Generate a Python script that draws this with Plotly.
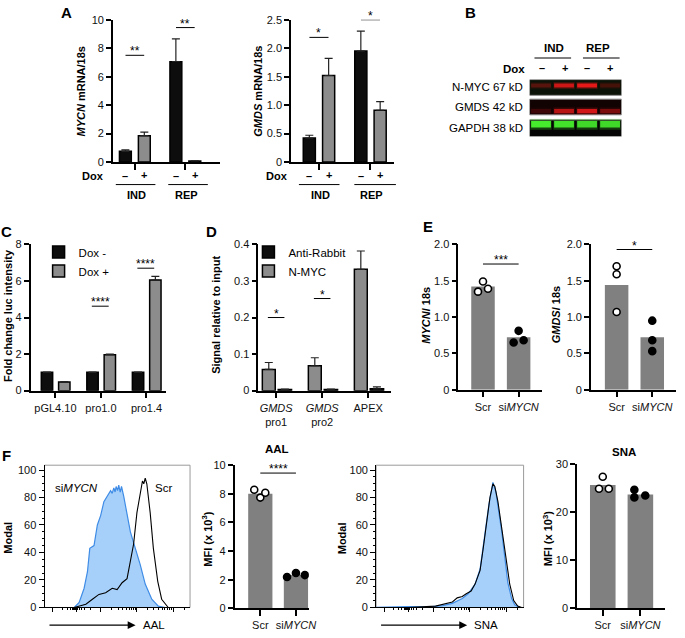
import plotly.graph_objects as go

W, H = 685, 638
FONT = "Arial, Liberation Sans, sans-serif"

# ─── data ────────────────────────────────────────────────────────────────────
A_GROUPS = ["IND", "REP"]
A_DOX = ["–", "+"]
A_MYCN_MINUS = [0.75, 7.05]
A_MYCN_MINUS_ERR = [0.10, 1.60]
A_MYCN_PLUS = [1.85, 0.07]
A_MYCN_PLUS_ERR = [0.25, 0.02]
A_MYCN_SIG = ["**", "**"]
A_GMDS_MINUS = [0.42, 1.95]
A_GMDS_MINUS_ERR = [0.05, 0.35]
A_GMDS_PLUS = [1.52, 0.91]
A_GMDS_PLUS_ERR = [0.30, 0.15]
A_GMDS_SIG = ["*", "*"]

B_ROWS = ["N-MYC 67 kD", "GMDS 42 kD", "GAPDH 38 kD"]
B_NMYC = [0.30, 0.85, 1.00, 0.22]
B_GMDS = [0.18, 0.75, 0.90, 0.45]
B_GAPDH = [1.00, 0.95, 0.90, 0.90]

C_CONSTRUCTS = ["pGL4.10", "pro1.0", "pro1.4"]
C_DOX_MINUS = [1.0, 1.0, 1.0]
C_DOX_MINUS_ERR = [0.02, 0.02, 0.02]
C_DOX_PLUS = [0.47, 1.97, 6.05]
C_DOX_PLUS_ERR = [0.03, 0.03, 0.20]
C_SIG = ["", "****", "****"]

D_REGIONS = ["<i>GMDS</i><br>pro1", "<i>GMDS</i><br>pro2", "APEX"]
D_ANTI_RABBIT = [0.003, 0.003, 0.005]
D_ANTI_RABBIT_ERR = [0.001, 0.001, 0.005]
D_NMYC = [0.058, 0.068, 0.332]
D_NMYC_ERR = [0.019, 0.022, 0.050]
D_SIG = ["*", "*", "**"]

SI_GROUPS = ["Scr", "si<i>MYCN</i>"]
E_MYCN_MEAN = [1.42, 0.72]
E_MYCN_SCR = [1.35, 1.49, 1.39]
E_MYCN_SI = [0.65, 0.81, 0.68]
E_GMDS_MEAN = [1.44, 0.72]
E_GMDS_SCR = [1.70, 1.59, 1.07]
E_GMDS_SI = [0.95, 0.68, 0.53]

# flow histograms (channel 0-100, % of mode)
AAL_SI_X = [20.4, 23.8, 27.2, 29.5, 31.1, 34.0, 36.3, 38.6, 40.8, 42.5, 43.8, 45.4, 46.5,
            47.6, 48.5, 49.2, 50.2, 51.0, 52.0, 52.9, 54.4, 56.7, 59.0, 62.4, 65.8, 69.2,
            73.7, 78.2, 82.8]
AAL_SI_Y = [0, 3.6, 14, 26, 43, 45, 60, 67, 77, 80, 83, 85, 83, 87, 84, 88, 85, 89, 84,
            88, 81, 67, 55, 43, 31, 17, 6, 1, 0]
AAL_SCR_X = [20.4, 28.4, 32.9, 37.4, 42.0, 46.5, 49.9, 53.3, 56.7, 59.0, 61.2, 63.5, 65.8,
             67.3, 68.2, 69.2, 70.3, 72.6, 74.8, 77.8, 80.5, 85.0]
AAL_SCR_Y = [0, 2.4, 6, 9.5, 10.7, 14, 13, 18, 21, 33, 46, 69, 83, 92, 90, 94, 90, 69, 43,
             19, 6, 0]
SNA_SI_X = [0, 22.1, 35.6, 45.0, 51.7, 58.4, 62.4, 67.1, 70.5, 72.5, 75.2, 76.5, 78.5, 79.2,
            81.2, 82.6, 85.2, 87.2, 89.3, 91.9, 94.0, 97.3]
SNA_SI_Y = [0, 0.7, 0.5, 1.4, 3, 6.5, 10, 17, 28, 44, 67, 75, 87, 91, 84, 74, 55, 37, 18,
            6.5, 2, 0]
SNA_SCR_X = [0, 22.1, 40.3, 47.0, 51.7, 55.0, 58.4, 61.1, 64.4, 67.1, 70.5, 72.5, 75.2, 77.2,
             79.2, 80.5, 82.6, 85.2, 87.9, 90.6, 93.3, 96.0, 98.7]
SNA_SCR_Y = [0, 0, 1, 3, 4, 7, 8, 10, 12, 17, 27, 42, 65, 80, 90, 88, 77, 58, 35, 17, 5, 1, 0]

F_AAL_MEAN = [8.0, 2.33]
F_AAL_SCR = [8.29, 7.74, 8.08]
F_AAL_SI = [2.20, 2.47, 2.33]
F_SNA_MEAN = [25.7, 23.7]
F_SNA_SCR = [24.9, 27.4, 24.9]
F_SNA_SI = [24.7, 23.1, 23.5]

BLACK = "#0d0d0d"
GREY = "#8c8c8c"
BAR_GREY = "#808080"


def px(x):
    return x / W


def py(y):
    return 1 - y / H


fig = go.Figure()
layout_axes = {}
shapes = []
annotations = []


def axis_pair(n, xpx, ypx, xr, yr, **ykw):
    """Axis n placed on the pixel box xpx (left, right) x ypx (top, bottom)."""
    sx = "" if n == 1 else str(n)
    base = dict(showline=True, linecolor="black", linewidth=1.5, ticks="outside",
                ticklen=5, tickwidth=1.5, tickcolor="black", showgrid=False,
                zeroline=False, fixedrange=True,
                tickfont=dict(family=FONT, size=11, color="#111"))
    xa = dict(base, domain=[px(xpx[0]), px(xpx[1])], range=xr, anchor="y" + sx)
    ya = dict(base, domain=[py(ypx[1]), py(ypx[0])], range=yr, anchor="x" + sx)
    ya.update(ykw)
    layout_axes["xaxis" + sx] = xa
    layout_axes["yaxis" + sx] = ya
    return "x" + sx, "y" + sx


def bar(xa, ya, vals, err, color, offset, width, outline=True, **kw):
    n = len(vals)
    t = go.Bar(x=list(range(n)), y=vals, offset=offset, width=width, xaxis=xa, yaxis=ya,
               marker=dict(color=color, line=dict(color="black", width=1.5 if outline else 0)),
               showlegend=False, hoverinfo="skip")
    if err is not None:
        t.error_y = dict(type="data", array=err, arrayminus=[0] * n, symmetric=False,
                         color="#222", thickness=1.2, width=4)
    t.update(**kw)
    fig.add_trace(t)


def dots(xa, ya, i, vals, jitter, open_):
    fig.add_trace(go.Scatter(
        x=[i + j for j in jitter], y=vals, mode="markers", xaxis=xa, yaxis=ya,
        marker=dict(size=7, color="white" if open_ else "black",
                    line=dict(color="black", width=1.6)),
        showlegend=False, hoverinfo="skip"))


def sig(xa, ya, x0, x1, y, stars):
    if not stars:
        return
    shapes.append(dict(type="line", xref=xa, yref=ya, x0=x0, x1=x1, y0=y, y1=y,
                       line=dict(color="black", width=1)))
    annotations.append(dict(x=(x0 + x1) / 2, y=y, xref=xa, yref=ya, text=stars,
                            showarrow=False, yanchor="bottom", yshift=-5,
                            font=dict(family=FONT, size=12, color="black")))


def text(x, y, s, size=11, anchor="center", angle=0, xref="paper"):
    annotations.append(dict(x=x if xref != "paper" else px(x), y=py(y), xref=xref,
                            yref="paper", text=s, showarrow=False, xanchor=anchor,
                            yanchor="middle", textangle=angle,
                            font=dict(family=FONT, size=size, color="black")))


def hline(x0, x1, y, width=1):
    shapes.append(dict(type="line", xref="paper", yref="paper", x0=px(x0), x1=px(x1),
                       y0=py(y), y1=py(y), line=dict(color="black", width=width)))


def arrow(x0, x1, y):
    hline(x0, x1 - 6, y, 1.2)
    shapes.append(dict(type="path", xref="paper", yref="paper", fillcolor="black",
                       line=dict(width=0),
                       path="M%f,%f L%f,%f L%f,%fZ" % (px(x1 - 8), py(y - 4), px(x1), py(y),
                                                        px(x1 - 8), py(y + 4))))


# ─── A: MYCN / GMDS qPCR ─────────────────────────────────────────────────────
for n, xpx, xr, yr, minus, merr, plus, perr, sigs, sig_y, ticks, ytitle, tx, lines in [
    (1, (114, 222), [-0.431, 1.686], [0, 10], A_MYCN_MINUS, A_MYCN_MINUS_ERR,
     A_MYCN_PLUS, A_MYCN_PLUS_ERR, A_MYCN_SIG, [7.5, 9.45],
     dict(tickvals=[0, 2, 4, 6, 8, 10]), "<b><i>MYCN</i> mRNA/18s</b>", (82, 94),
     [(117, 157), (170, 210)]),
    (2, (294, 398), [-0.538, 1.46], [0, 2.5], A_GMDS_MINUS, A_GMDS_MINUS_ERR,
     A_GMDS_PLUS, A_GMDS_PLUS_ERR, A_GMDS_SIG, [2.19, 2.5],
     dict(tickvals=[0, 0.5, 1, 1.5, 2, 2.5], ticktext=["0", "0.5", "1.0", "1.5", "2.0", "2.5"]),
     "<b><i>GMDS</i> mRNA/18s</b>", (261, 280), [(302, 343), (358, 400)]),
]:
    xa, ya = axis_pair(n, xpx, (14, 159), xr, yr, **ticks)
    layout_axes["xaxis" + ("" if n == 1 else str(n))].update(
        tickvals=list(range(len(A_GROUPS))), showticklabels=False, ticklen=6)
    bar(xa, ya, minus, merr, BLACK, -0.30, 0.235)
    bar(xa, ya, plus, perr, GREY, 0.075, 0.235)
    for i, g in enumerate(A_GROUPS):
        sig(xa, ya, i - 0.18, i + 0.19, sig_y[i], sigs[i])
        text(i - 0.30 + 0.1175, 173, "<b>%s</b>" % A_DOX[0], xref=xa)
        text(i + 0.075 + 0.1175, 172, "<b>%s</b>" % A_DOX[1], xref=xa)
        text(i + 0.03, 193, "<b>%s</b>" % g, xref=xa)
        hline(lines[i][0], lines[i][1], 182)
    text(tx[0], 87, ytitle, angle=-90)
    text(tx[1], 173, "<b>Dox</b>")

# ─── B: western blot ─────────────────────────────────────────────────────────
xa, ya = axis_pair(3, (535, 628), (75, 133), [-0.5, 3.5], [3, 0])
layout_axes["xaxis3"].update(visible=False)
layout_axes["yaxis3"].update(visible=False)
rows = [(0.0, 0.83, "#0b1207", B_NMYC, 0.31, 0.22, "230,25,25"),
        (1.03, 1.86, "#120303", B_GMDS, 1.66, 0.22, "225,25,25"),
        (2.12, 3.0, "#050505", B_GAPDH, 2.35, 0.34, "70,235,45")]
lanes = list(range(4))
for (y0, y1, bg, inten, c, h, rgb), label, ly in zip(rows, B_ROWS, [83, 103, 124]):
    shapes.append(dict(type="rect", xref=xa, yref=ya, x0=-0.5, x1=3.5, y0=y0, y1=y1,
                       fillcolor=bg, line=dict(color="#8a8a8a", width=1), layer="below"))
    fig.add_trace(go.Bar(x=lanes, y=[h * 1.7] * 4, base=[c - h * 0.85] * 4, width=0.92,
                         xaxis=xa, yaxis=ya, showlegend=False, hoverinfo="skip",
                         marker=dict(color=["rgba(%s,%.2f)" % (rgb, a * 0.25) for a in inten],
                                     line=dict(width=0))))
    fig.add_trace(go.Bar(x=lanes, y=[h] * 4, base=[c - h / 2] * 4, width=0.86,
                         xaxis=xa, yaxis=ya, showlegend=False, hoverinfo="skip",
                         marker=dict(color=["rgba(%s,%.2f)" % (rgb, a) for a in inten],
                                     line=dict(width=0))))
    text(530, ly, label, size=11.5, anchor="right")
text(560, 43, "<b>IND</b>", size=11.5)
text(604, 43, "<b>REP</b>", size=11.5)
hline(540, 577, 53)
hline(589, 626, 53)
text(519, 64, "<b>Dox</b>", size=11.5)
for lx, s in zip([548, 571, 593, 616], A_DOX * 2):
    text(lx, 63, "<b>%s</b>" % s)

# ─── C: luciferase ───────────────────────────────────────────────────────────
xa, ya = axis_pair(4, (31, 168), (243, 392), [-0.543, 2.435], [0, 8],
                   tickvals=[0, 2, 4, 6, 8])
layout_axes["xaxis4"].update(tickvals=list(range(3)), ticktext=C_CONSTRUCTS, ticklen=6)
bar(xa, ya, C_DOX_MINUS, C_DOX_MINUS_ERR, BLACK, -0.31, 0.25, name="Dox -",
    showlegend=True, legend="legend")
bar(xa, ya, C_DOX_PLUS, C_DOX_PLUS_ERR, GREY, 0.07, 0.25, name="Dox +",
    showlegend=True, legend="legend")
for i, (s, y) in enumerate(zip(C_SIG, [0, 4.62, 6.7])):
    sig(xa, ya, i - 0.2, i + 0.17, y, s)
text(8, 315, "<b>Fold change luc intensity</b>", angle=-90)

# ─── D: ChIP ─────────────────────────────────────────────────────────────────
xa, ya = axis_pair(5, (261, 395), (243, 392), [-0.387, 2.495], [0, 0.4],
                   tickvals=[0, 0.1, 0.2, 0.3, 0.4], ticktext=["0", "0.1", "0.2", "0.3", "0.4"])
layout_axes["xaxis5"].update(tickvals=list(range(3)), ticktext=D_REGIONS, ticklen=6)
bar(xa, ya, D_ANTI_RABBIT, D_ANTI_RABBIT_ERR, BLACK, 0.045, 0.29, name="Anti-Rabbit",
    showlegend=True, legend="legend2")
bar(xa, ya, D_NMYC, D_NMYC_ERR, GREY, -0.30, 0.28, name="N-MYC",
    showlegend=True, legend="legend2")
for i, (s, y) in enumerate(zip(D_SIG, [0.2, 0.252, 0.413])):
    sig(xa, ya, i - 0.18, i + 0.18, y, s)
text(218, 315, "<b>Signal relative to input</b>", angle=-90)

# ─── E: siRNA qPCR ───────────────────────────────────────────────────────────
for n, xpx, xr, means, scr, si, jit_scr, jit_si, stars, sy, title, tx in [
    (6, (463, 548), [-0.694, 1.667], E_MYCN_MEAN, E_MYCN_SCR, E_MYCN_SI,
     [-0.14, 0, 0.14], [-0.14, 0, 0.14], "***", 1.73, "<b><i>MYCN</i>/ 18s</b>", 430),
    (7, (597, 683), [-0.722, 1.667], E_GMDS_MEAN, E_GMDS_SCR, E_GMDS_SI,
     [0, 0, 0], [0, 0, 0], "*", 1.93, "<b><i>GMDS</i>/ 18s</b>", 562),
]:
    xa, ya = axis_pair(n, xpx, (243, 391), xr, [0, 2],
                       tickvals=[0, 0.5, 1, 1.5, 2], ticktext=["0", "0.5", "1.0", "1.5", "2.0"])
    layout_axes["xaxis%d" % n].update(tickvals=[0, 1], ticktext=SI_GROUPS, ticklen=6)
    bar(xa, ya, means, None, BAR_GREY, -0.33, 0.66, outline=False)
    dots(xa, ya, 0, scr, jit_scr, True)
    dots(xa, ya, 1, si, jit_si, False)
    sig(xa, ya, 0, 1, sy, stars)
    text(tx, 315, title, angle=-90)

# ─── F: flow cytometry ───────────────────────────────────────────────────────
major = [5.4, 21.8, 38.7, 63.3, 88.4]
minor = [19.0, 20.2, 20.9, 21.4, 22.3, 22.9, 23.8, 25.2, 27.5, 31.5, 12.0, 15.5, 17.5]
for d in [38.7, 63.3, 88.4]:
    minor += [d + 25 * k for k in [0.301, 0.477, 0.602, 0.699, 0.778, 0.845, 0.903, 0.954]]
minor = [m for m in minor if m < 100]

for n, xpx, si_x, si_y, scr_x, scr_y, lab in [
    (8, (45, 192), AAL_SI_X, AAL_SI_Y, AAL_SCR_X, AAL_SCR_Y, "AAL"),
    (10, (380, 529), SNA_SI_X, SNA_SI_Y, SNA_SCR_X, SNA_SCR_Y, "SNA"),
]:
    xa, ya = axis_pair(n, xpx, (468, 613), [0, 100], [0, 103.5],
                       tickvals=[0, 20, 40, 60, 80, 100], linewidth=1, tickwidth=1,
                       minor=dict(ticks="outside", ticklen=2, dtick=5, tickcolor="black"))
    layout_axes["xaxis%d" % n].update(tickvals=major, showticklabels=False, ticklen=4,
                                      linewidth=1, tickwidth=1,
                                      minor=dict(tickvals=minor, ticks="outside", ticklen=2,
                                                 tickcolor="black", tickwidth=1))
    shapes.append(dict(type="rect", xref=xa + " domain", yref=ya + " domain", x0=0, x1=1,
                       y0=0, y1=1, line=dict(color="#9a9a9a", width=1), layer="below"))
    fig.add_trace(go.Scatter(x=si_x, y=si_y, mode="lines", fill="tozeroy", xaxis=xa, yaxis=ya,
                             fillcolor="rgba(150,200,248,0.85)",
                             line=dict(color="#3f8ce6", width=1.2),
                             showlegend=False, hoverinfo="skip"))
    fig.add_trace(go.Scatter(x=scr_x, y=scr_y, mode="lines", xaxis=xa, yaxis=ya,
                             line=dict(color="black", width=1.1),
                             showlegend=False, hoverinfo="skip"))
    arrow(xpx[0] + 5, xpx[0] + 92, 631)
    text(xpx[0] + 97, 631, lab, anchor="left", size=11.5)
    text(xpx[0] - 37 if n == 8 else xpx[0] - 35, 542, "<b>Modal</b>", angle=-90)

text(77, 491, "si<i>MYCN</i>", size=11.5)
text(165, 491, "Scr", size=11.5)

for n, xpx, xr, yr, tv, means, scr, si, jit_scr, jit_si, stars, title, ttl_xy, tx in [
    (9, (237, 312), [-0.722, 1.361], [0, 10], [0, 2, 4, 6, 8, 10], F_AAL_MEAN,
     F_AAL_SCR, F_AAL_SI, [-0.17, 0, 0.14], [-0.25, 0, 0.25], "****", "<b>AAL</b>",
     (280, 452), 209),
    (11, (583, 672), [-0.684, 1.658], [0, 30], [0, 10, 20, 30], F_SNA_MEAN,
     F_SNA_SCR, F_SNA_SI, [-0.1, 0, 0.16], [-0.16, -0.16, 0.13], "", "<b>SNA</b>",
     (630, 455), 553),
]:
    xa, ya = axis_pair(n, xpx, (468 if n == 9 else 467, 614), xr, yr, tickvals=tv)
    layout_axes["xaxis%d" % n].update(tickvals=[0, 1], ticktext=SI_GROUPS, ticklen=6)
    bar(xa, ya, means, None, BAR_GREY, -0.34, 0.68, outline=False)
    dots(xa, ya, 0, scr, jit_scr, True)
    dots(xa, ya, 1, si, jit_si, False)
    sig(xa, ya, 0, 1, 9.45, stars)
    text(ttl_xy[0], ttl_xy[1], title, size=11.5)
    text(tx, 543, "<b>MFI (x 10<sup>3</sup>)</b>", angle=-90)

# ─── panel letters ───────────────────────────────────────────────────────────
for letter, (lx, ly) in {"A": (67, 7), "B": (475, 7), "C": (7, 230), "D": (214, 230),
                         "E": (432, 225), "F": (7, 458)}.items():
    text(lx, ly, "<b>%s</b>" % letter, size=15)

legend_style = dict(xanchor="left", yanchor="top", bgcolor="rgba(0,0,0,0)",
                    font=dict(family=FONT, size=11.5, color="black"), tracegroupgap=0,
                    itemclick=False, itemdoubleclick=False)
fig.update_layout(
    width=W, height=H,
    margin=dict(l=0, r=0, t=0, b=0),
    paper_bgcolor="white", plot_bgcolor="rgba(0,0,0,0)",
    barmode="overlay",
    font=dict(family=FONT, size=11, color="black"),
    showlegend=True,
    legend=dict(legend_style, x=px(39), y=py(236)),
    legend2=dict(legend_style, x=px(251), y=py(236)),
    shapes=shapes,
    annotations=annotations,
    **layout_axes,
)

# the page body has a default 8px margin; drop it so the figure sits at 0,0
fig.write_html("out.html", config={"displayModeBar": False},
               post_script="document.body.style.margin='0';")
